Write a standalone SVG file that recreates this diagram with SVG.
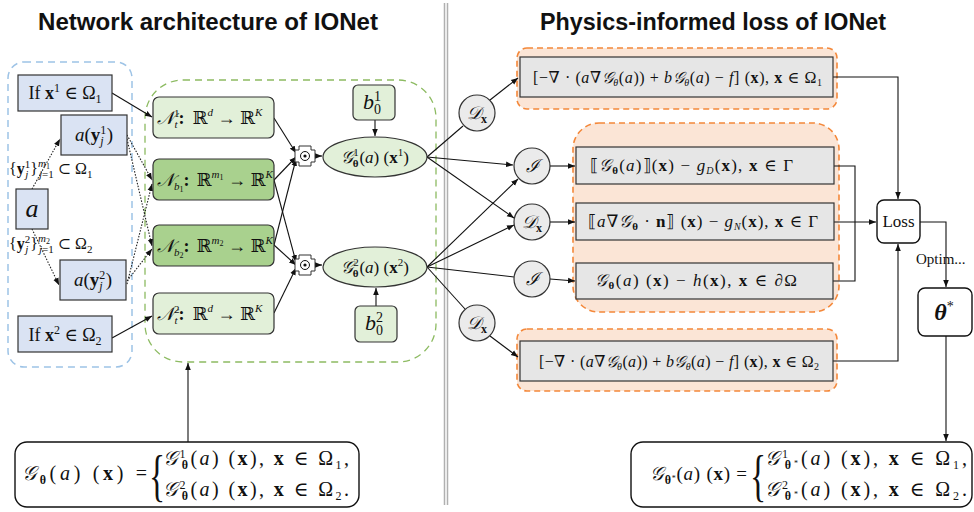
<svg xmlns="http://www.w3.org/2000/svg" width="974" height="512" viewBox="0 0 974 512">
<style>
text { font-family: "Liberation Serif", "DejaVu Serif", serif; fill: #111; }
.t { font-family: "Liberation Sans", Arial, sans-serif; font-weight: bold; font-size: 23px; }
.i { font-style: italic; }
.b { font-weight: bold; }
.sc { font-family: "DejaVu Serif", "Liberation Serif", serif; font-style: italic; }
.blue { fill: #DAE3F3; stroke: #333; stroke-width: 1.2; }
.lg { fill: #E2F0D9; stroke: #333; stroke-width: 1.2; }
.mg { fill: #A9D18E; stroke: #333; stroke-width: 1.2; }
.gray { fill: #E6E6E6; stroke: #333; stroke-width: 1.2; }
.circ { fill: #EBEBEB; stroke: #333; stroke-width: 1.2; }
.org { fill: #FBE5D6; stroke: #F4883A; stroke-width: 1.6; stroke-dasharray: 6 4; }
.wb { fill: #fff; stroke: #111; stroke-width: 1.4; }
.ln { fill: none; stroke: #111; stroke-width: 1.1; }
.dot { fill: none; stroke: #222; stroke-width: 1.1; stroke-dasharray: 1.5 1.5; }
.arr { marker-end: url(#ah); }
</style>
<defs>
<marker id="ah" viewBox="0 0 10 10" refX="10" refY="5" markerWidth="7" markerHeight="7" orient="auto" markerUnits="userSpaceOnUse">
<path d="M0,1 L10,5 L0,9 z" fill="#111"/>
</marker>
</defs>

<!-- titles -->
<text class="t" x="38" y="30" textLength="340" lengthAdjust="spacingAndGlyphs">Network architecture of IONet</text>
<text class="t" x="540" y="30" textLength="346" lengthAdjust="spacingAndGlyphs">Physics-informed loss of IONet</text>

<!-- divider -->
<g id="divider">
<line x1="444.5" y1="3" x2="444.5" y2="505" stroke="#B0B0B0" stroke-width="1.5"/>
<line x1="447.5" y1="3" x2="447.5" y2="505" stroke="#B0B0B0" stroke-width="1.5"/>
</g>

<!-- group containers -->
<rect id="input-group" x="8" y="62" width="124" height="305" rx="16" fill="none" stroke="#9DC3E6" stroke-width="1.5" stroke-dasharray="7 5"/>
<rect id="network-group" x="145" y="80" width="291" height="282" rx="38" fill="none" stroke="#8DBB62" stroke-width="1.3" stroke-dasharray="7 5"/>
<rect id="loss-g1" class="org" x="517" y="48" width="320" height="61" rx="10"/>
<rect id="loss-g2" class="org" x="573" y="123" width="266" height="189" rx="26"/>
<rect id="loss-g3" class="org" x="517" y="329" width="320" height="62" rx="10"/>

<!-- connectors -->
<g id="connectors">
<path class="ln arr" d="M112,93 L152,117"/>
<path class="ln arr" d="M112,338 L152,316"/>
<path class="dot arr" d="M32,189 L60,139"/>
<path class="dot arr" d="M32,229 L59,285"/>
<path class="dot arr" d="M127,135 L152,180"/>
<path class="dot arr" d="M127,139 L152,246"/>
<path class="dot arr" d="M127,284 L152,184"/>
<path class="dot arr" d="M127,281 L152,249"/>
<path class="ln arr" d="M274,118 L296,153"/>
<path class="ln arr" d="M274,180 L296,157"/>
<path class="ln arr" d="M274,245 L296,159"/>
<path class="ln arr" d="M274,180 L296,262"/>
<path class="ln arr" d="M274,245 L296,265"/>
<path class="ln arr" d="M274,313 L296,268"/>
<path class="ln arr" d="M313,156 L322,156"/>
<path class="ln arr" d="M313,265 L322,265"/>
<path class="ln arr" d="M375,120 L375,136"/>
<path class="ln arr" d="M376,306 L376,288"/>
<path class="ln arr" d="M188,442 L188,363"/>
<path class="ln" d="M427,157 L463,126"/>
<path class="ln arr" d="M427,157 L513,165"/>
<path class="ln arr" d="M427,157 L514,218"/>
<path class="ln arr" d="M427,267 L518,179"/>
<path class="ln arr" d="M427,267 L514,225"/>
<path class="ln" d="M427,267 L514,277"/>
<path class="ln" d="M427,267 L465,309"/>
<path class="ln arr" d="M490,100 L518,78"/>
<path class="ln arr" d="M550,166 L575,166"/>
<path class="ln arr" d="M550,222 L575,222"/>
<path class="ln arr" d="M550,279 L575,281"/>
<path class="ln arr" d="M490,336 L518,357"/>
<path class="ln arr" d="M833,77 H898 V199"/>
<path class="ln" d="M834,166 H855 V281 H833"/>
<path class="ln arr" d="M834,222 H876"/>
<path class="ln arr" d="M833,361 H898 V244"/>
<path class="ln arr" d="M920,222 H946 V287"/>
<path class="ln arr" d="M946,336 V441"/>
</g>

<!-- left input nodes -->
<g id="if-x1">
<rect class="blue" x="18" y="75" width="94" height="36"/>
<text x="65" y="99" font-size="18" text-anchor="middle">If <tspan class="b">x</tspan><tspan font-size="12" baseline-shift="7">1</tspan> ∈ Ω<tspan font-size="12" baseline-shift="-4">1</tspan></text>
</g>
<g id="a-y1">
<rect class="blue" x="61" y="115" width="66" height="40"/>
<text x="94" y="141" font-size="19" text-anchor="middle"><tspan class="i">a</tspan>(<tspan class="b">y</tspan><tspan font-size="12" baseline-shift="7">1</tspan><tspan font-size="12" class="i" dx="-6" baseline-shift="-4">j</tspan><tspan dx="3">)</tspan></text>
</g>
<g id="a">
<rect class="blue" x="16" y="189" width="32" height="40"/>
<text x="32" y="217" font-size="26" class="i" text-anchor="middle">a</text>
</g>
<g id="a-y2">
<rect class="blue" x="60" y="260" width="66" height="40"/>
<text x="93" y="286" font-size="19" text-anchor="middle"><tspan class="i">a</tspan>(<tspan class="b">y</tspan><tspan font-size="12" baseline-shift="7">2</tspan><tspan font-size="12" class="i" dx="-6" baseline-shift="-4">j</tspan><tspan dx="3">)</tspan></text>
</g>
<g id="if-x2">
<rect class="blue" x="18" y="316" width="94" height="36"/>
<text x="65" y="341" font-size="18" text-anchor="middle">If <tspan class="b">x</tspan><tspan font-size="12" baseline-shift="7">2</tspan> ∈ Ω<tspan font-size="12" baseline-shift="-4">2</tspan></text>
</g>
<text x="9" y="174" font-size="16">{<tspan class="b">y</tspan><tspan font-size="11" baseline-shift="6">1</tspan><tspan font-size="11" class="i" dx="-5" baseline-shift="-4">j</tspan><tspan dx="2">}</tspan><tspan font-size="11" class="i" baseline-shift="7">m</tspan><tspan font-size="8" baseline-shift="5">1</tspan><tspan font-size="11" dx="-11" baseline-shift="-4"><tspan class="i">j</tspan>=1</tspan> ⊂ Ω<tspan font-size="11" baseline-shift="-4">1</tspan></text>
<text x="9" y="249" font-size="16">{<tspan class="b">y</tspan><tspan font-size="11" baseline-shift="6">2</tspan><tspan font-size="11" class="i" dx="-5" baseline-shift="-4">j</tspan><tspan dx="2">}</tspan><tspan font-size="11" class="i" baseline-shift="7">m</tspan><tspan font-size="8" baseline-shift="5">2</tspan><tspan font-size="11" dx="-11" baseline-shift="-4"><tspan class="i">j</tspan>=1</tspan> ⊂ Ω<tspan font-size="11" baseline-shift="-4">2</tspan></text>

<!-- network nodes -->
<g id="nt1">
<rect class="lg" x="153" y="97" width="121" height="41" rx="6"/>
<text x="157" y="124" font-size="18"><tspan class="sc">𝒩</tspan><tspan font-size="11" baseline-shift="7">1</tspan><tspan font-size="11" class="i" dx="-5" baseline-shift="-4">t</tspan><tspan class="b" dx="1">:</tspan><tspan dx="8">ℝ</tspan><tspan font-size="11" class="i" baseline-shift="8">d</tspan> → ℝ<tspan font-size="11" class="i" baseline-shift="8">K</tspan></text>
</g>
<g id="nb1">
<rect class="mg" x="153" y="159" width="121" height="41" rx="6"/>
<text x="157" y="186" font-size="18"><tspan class="sc">𝒩</tspan><tspan font-size="11" class="i" baseline-shift="-4">b</tspan><tspan font-size="8" baseline-shift="-6">1</tspan><tspan class="b">:</tspan><tspan dx="7">ℝ</tspan><tspan font-size="11" class="i" baseline-shift="8">m</tspan><tspan font-size="8" baseline-shift="6">1</tspan> → ℝ<tspan font-size="11" class="i" baseline-shift="8">K</tspan></text>
</g>
<g id="nb2">
<rect class="mg" x="153" y="225" width="121" height="41" rx="6"/>
<text x="157" y="252" font-size="18"><tspan class="sc">𝒩</tspan><tspan font-size="11" class="i" baseline-shift="-4">b</tspan><tspan font-size="8" baseline-shift="-6">2</tspan><tspan class="b">:</tspan><tspan dx="7">ℝ</tspan><tspan font-size="11" class="i" baseline-shift="8">m</tspan><tspan font-size="8" baseline-shift="6">2</tspan> → ℝ<tspan font-size="11" class="i" baseline-shift="8">K</tspan></text>
</g>
<g id="nt2">
<rect class="lg" x="153" y="293" width="121" height="41" rx="6"/>
<text x="157" y="320" font-size="18"><tspan class="sc">𝒩</tspan><tspan font-size="11" baseline-shift="7">2</tspan><tspan font-size="11" class="i" dx="-5" baseline-shift="-4">t</tspan><tspan class="b" dx="1">:</tspan><tspan dx="8">ℝ</tspan><tspan font-size="11" class="i" baseline-shift="8">d</tspan> → ℝ<tspan font-size="11" class="i" baseline-shift="8">K</tspan></text>
</g>

<!-- product operators -->
<g id="prod1">
<polygon points="299,146 311,146 311,150 315,150 315,162 311,162 311,166 299,166 299,162 295,162 295,150 299,150" fill="#fff" stroke="#333" stroke-width="1"/>
<circle cx="305" cy="156" r="4.5" fill="none" stroke="#111" stroke-width="1"/>
<circle cx="305" cy="156" r="1.6" fill="#111"/>
</g>
<g id="prod2">
<polygon points="299,255 311,255 311,259 315,259 315,271 311,271 311,275 299,275 299,271 295,271 295,259 299,259" fill="#fff" stroke="#333" stroke-width="1"/>
<circle cx="305" cy="265" r="4.5" fill="none" stroke="#111" stroke-width="1"/>
<circle cx="305" cy="265" r="1.6" fill="#111"/>
</g>

<!-- output ellipses -->
<g id="g1">
<ellipse class="lg" cx="375" cy="157" rx="52" ry="20"/>
<text x="375" y="163" font-size="17" text-anchor="middle"><tspan class="sc">𝒢</tspan><tspan font-size="11" baseline-shift="7">1</tspan><tspan font-size="11" class="b" dx="-6" baseline-shift="-4">θ</tspan><tspan dx="1">(</tspan><tspan class="i">a</tspan>) (<tspan class="b">x</tspan><tspan font-size="11" baseline-shift="7">1</tspan>)</text>
</g>
<g id="g2">
<ellipse class="lg" cx="375" cy="267" rx="52" ry="20"/>
<text x="375" y="273" font-size="17" text-anchor="middle"><tspan class="sc">𝒢</tspan><tspan font-size="11" baseline-shift="7">2</tspan><tspan font-size="11" class="b" dx="-6" baseline-shift="-4">θ</tspan><tspan dx="1">(</tspan><tspan class="i">a</tspan>) (<tspan class="b">x</tspan><tspan font-size="11" baseline-shift="7">2</tspan>)</text>
</g>
<g id="b01">
<rect class="lg" x="353" y="85" width="42" height="35" rx="5"/>
<text x="372" y="109" font-size="22" text-anchor="middle"><tspan class="i">b</tspan><tspan font-size="14" baseline-shift="8">1</tspan><tspan font-size="14" dx="-7" baseline-shift="-5">0</tspan></text>
</g>
<g id="b02">
<rect class="lg" x="355" y="306" width="42" height="36" rx="5"/>
<text x="374" y="330" font-size="22" text-anchor="middle"><tspan class="i">b</tspan><tspan font-size="14" baseline-shift="8">2</tspan><tspan font-size="14" dx="-7" baseline-shift="-5">0</tspan></text>
</g>

<!-- operator circles -->
<g id="dx1"><circle class="circ" cx="477" cy="113" r="18"/><text x="477" y="119" font-size="18" text-anchor="middle"><tspan class="sc">𝒟</tspan><tspan class="b" font-size="12" baseline-shift="-4">x</tspan></text></g>
<g id="i1"><circle class="circ" cx="532" cy="166" r="18"/><text x="532" y="172" font-size="18" text-anchor="middle" class="sc">ℐ</text></g>
<g id="dx2"><circle class="circ" cx="532" cy="222" r="18"/><text x="532" y="228" font-size="18" text-anchor="middle"><tspan class="sc">𝒟</tspan><tspan class="b" font-size="12" baseline-shift="-4">x</tspan></text></g>
<g id="i2"><circle class="circ" cx="532" cy="279" r="18"/><text x="532" y="285" font-size="18" text-anchor="middle" class="sc">ℐ</text></g>
<g id="dx3"><circle class="circ" cx="477" cy="323" r="18"/><text x="477" y="329" font-size="18" text-anchor="middle"><tspan class="sc">𝒟</tspan><tspan class="b" font-size="12" baseline-shift="-4">x</tspan></text></g>

<!-- loss term boxes -->
<g id="res-omega1">
<rect class="gray" x="520" y="57" width="313" height="40"/>
<text x="533" y="83" font-size="16" textLength="289" lengthAdjust="spacing">[−∇ · (<tspan class="i">a</tspan>∇<tspan class="sc">𝒢</tspan><tspan font-size="10" class="i" baseline-shift="-3">θ</tspan>(<tspan class="i">a</tspan>)) + <tspan class="i">b</tspan><tspan class="sc">𝒢</tspan><tspan font-size="10" class="i" baseline-shift="-3">θ</tspan>(<tspan class="i">a</tspan>) − <tspan class="i">f</tspan>] (<tspan class="b">x</tspan>), <tspan class="b">x</tspan> ∈ Ω<tspan font-size="10" baseline-shift="-3">1</tspan></text>
</g>
<g id="jump-d">
<rect class="gray" x="576" y="147" width="258" height="37"/>
<text x="590" y="171" font-size="17" textLength="203" lengthAdjust="spacing">⟦<tspan class="sc">𝒢</tspan><tspan font-size="11" class="b" baseline-shift="-3">θ</tspan>(<tspan class="i">a</tspan>)⟧(<tspan class="b">x</tspan>) − <tspan class="i">g</tspan><tspan font-size="10" class="i" baseline-shift="-3">D</tspan>(<tspan class="b">x</tspan>), <tspan class="b">x</tspan> ∈ Γ</text>
</g>
<g id="jump-n">
<rect class="gray" x="576" y="203" width="258" height="37"/>
<text x="588" y="227" font-size="17" textLength="230" lengthAdjust="spacing">⟦<tspan class="i">a</tspan>∇<tspan class="sc">𝒢</tspan><tspan font-size="11" class="b" baseline-shift="-3">θ</tspan> · <tspan class="b">n</tspan>⟧ (<tspan class="b">x</tspan>) − <tspan class="i">g</tspan><tspan font-size="10" class="i" baseline-shift="-3">N</tspan>(<tspan class="b">x</tspan>), <tspan class="b">x</tspan> ∈ Γ</text>
</g>
<g id="boundary">
<rect class="gray" x="576" y="263" width="257" height="36"/>
<text x="595" y="286" font-size="17" textLength="202" lengthAdjust="spacing"><tspan class="sc">𝒢</tspan><tspan font-size="11" class="b" baseline-shift="-3">θ</tspan>(<tspan class="i">a</tspan>) (<tspan class="b">x</tspan>) − <tspan class="i">h</tspan>(<tspan class="b">x</tspan>), <tspan class="b">x</tspan> ∈ ∂Ω</text>
</g>
<g id="res-omega2">
<rect class="gray" x="520" y="341" width="313" height="40"/>
<text x="539" y="367" font-size="16" textLength="280" lengthAdjust="spacing">[−∇ · (<tspan class="i">a</tspan>∇<tspan class="sc">𝒢</tspan><tspan font-size="10" class="i" baseline-shift="-3">θ</tspan>(<tspan class="i">a</tspan>)) + <tspan class="i">b</tspan><tspan class="sc">𝒢</tspan><tspan font-size="10" class="i" baseline-shift="-3">θ</tspan>(<tspan class="i">a</tspan>) − <tspan class="i">f</tspan>] (<tspan class="b">x</tspan>), <tspan class="b">x</tspan> ∈ Ω<tspan font-size="10" baseline-shift="-3">2</tspan></text>
</g>

<!-- loss / optimum -->
<g id="loss">
<rect class="wb" x="877" y="200" width="43" height="43" rx="7"/>
<text x="898.5" y="227" font-size="17" text-anchor="middle">Loss</text>
</g>
<text x="916" y="264" font-size="15">Optim...</text>
<g id="theta-star">
<rect class="wb" x="918" y="288" width="54" height="48" rx="7"/>
<text x="944" y="320" font-size="24" text-anchor="middle"><tspan class="b i">θ</tspan><tspan font-size="14" baseline-shift="9">*</tspan></text>
</g>

<!-- bottom formulas -->
<g id="g-theta">
<rect class="wb" x="15" y="442" width="344" height="65" rx="12"/>
<text x="22" y="480" font-size="20" textLength="125" lengthAdjust="spacing"><tspan class="sc">𝒢</tspan><tspan font-size="12" class="b" baseline-shift="-4">θ</tspan>(<tspan class="i">a</tspan>) (<tspan class="b">x</tspan>) =</text>
<text x="0" y="0" font-size="56" transform="translate(149,495) scale(0.6,1)">{</text>
<text x="163" y="465" font-size="20" textLength="186" lengthAdjust="spacing"><tspan class="sc">𝒢</tspan><tspan font-size="12" baseline-shift="7">1</tspan><tspan font-size="12" class="b" dx="-6" baseline-shift="-4">θ</tspan>(<tspan class="i">a</tspan>) (<tspan class="b">x</tspan>), <tspan class="b">x</tspan> ∈ Ω<tspan font-size="12" baseline-shift="-4">1</tspan>,</text>
<text x="163" y="496" font-size="20" textLength="186" lengthAdjust="spacing"><tspan class="sc">𝒢</tspan><tspan font-size="12" baseline-shift="7">2</tspan><tspan font-size="12" class="b" dx="-6" baseline-shift="-4">θ</tspan>(<tspan class="i">a</tspan>) (<tspan class="b">x</tspan>), <tspan class="b">x</tspan> ∈ Ω<tspan font-size="12" baseline-shift="-4">2</tspan>.</text>
</g>
<g id="g-theta-star">
<rect class="wb" x="631" y="442" width="341" height="65" rx="12"/>
<text x="650" y="480" font-size="19" textLength="97" lengthAdjust="spacing"><tspan class="sc">𝒢</tspan><tspan font-size="12" class="b" baseline-shift="-4">θ</tspan><tspan font-size="8" baseline-shift="-1">*</tspan>(<tspan class="i">a</tspan>) (<tspan class="b">x</tspan>) =</text>
<text x="0" y="0" font-size="56" transform="translate(750,495) scale(0.6,1)">{</text>
<text x="765" y="465" font-size="20" textLength="202" lengthAdjust="spacing"><tspan class="sc">𝒢</tspan><tspan font-size="12" baseline-shift="7">1</tspan><tspan font-size="12" class="b" dx="-6" baseline-shift="-4">θ</tspan><tspan font-size="8" baseline-shift="-1">*</tspan>(<tspan class="i">a</tspan>) (<tspan class="b">x</tspan>), <tspan class="b">x</tspan> ∈ Ω<tspan font-size="12" baseline-shift="-4">1</tspan>,</text>
<text x="765" y="496" font-size="20" textLength="202" lengthAdjust="spacing"><tspan class="sc">𝒢</tspan><tspan font-size="12" baseline-shift="7">2</tspan><tspan font-size="12" class="b" dx="-6" baseline-shift="-4">θ</tspan><tspan font-size="8" baseline-shift="-1">*</tspan>(<tspan class="i">a</tspan>) (<tspan class="b">x</tspan>), <tspan class="b">x</tspan> ∈ Ω<tspan font-size="12" baseline-shift="-4">2</tspan>.</text>
</g>
</svg>
